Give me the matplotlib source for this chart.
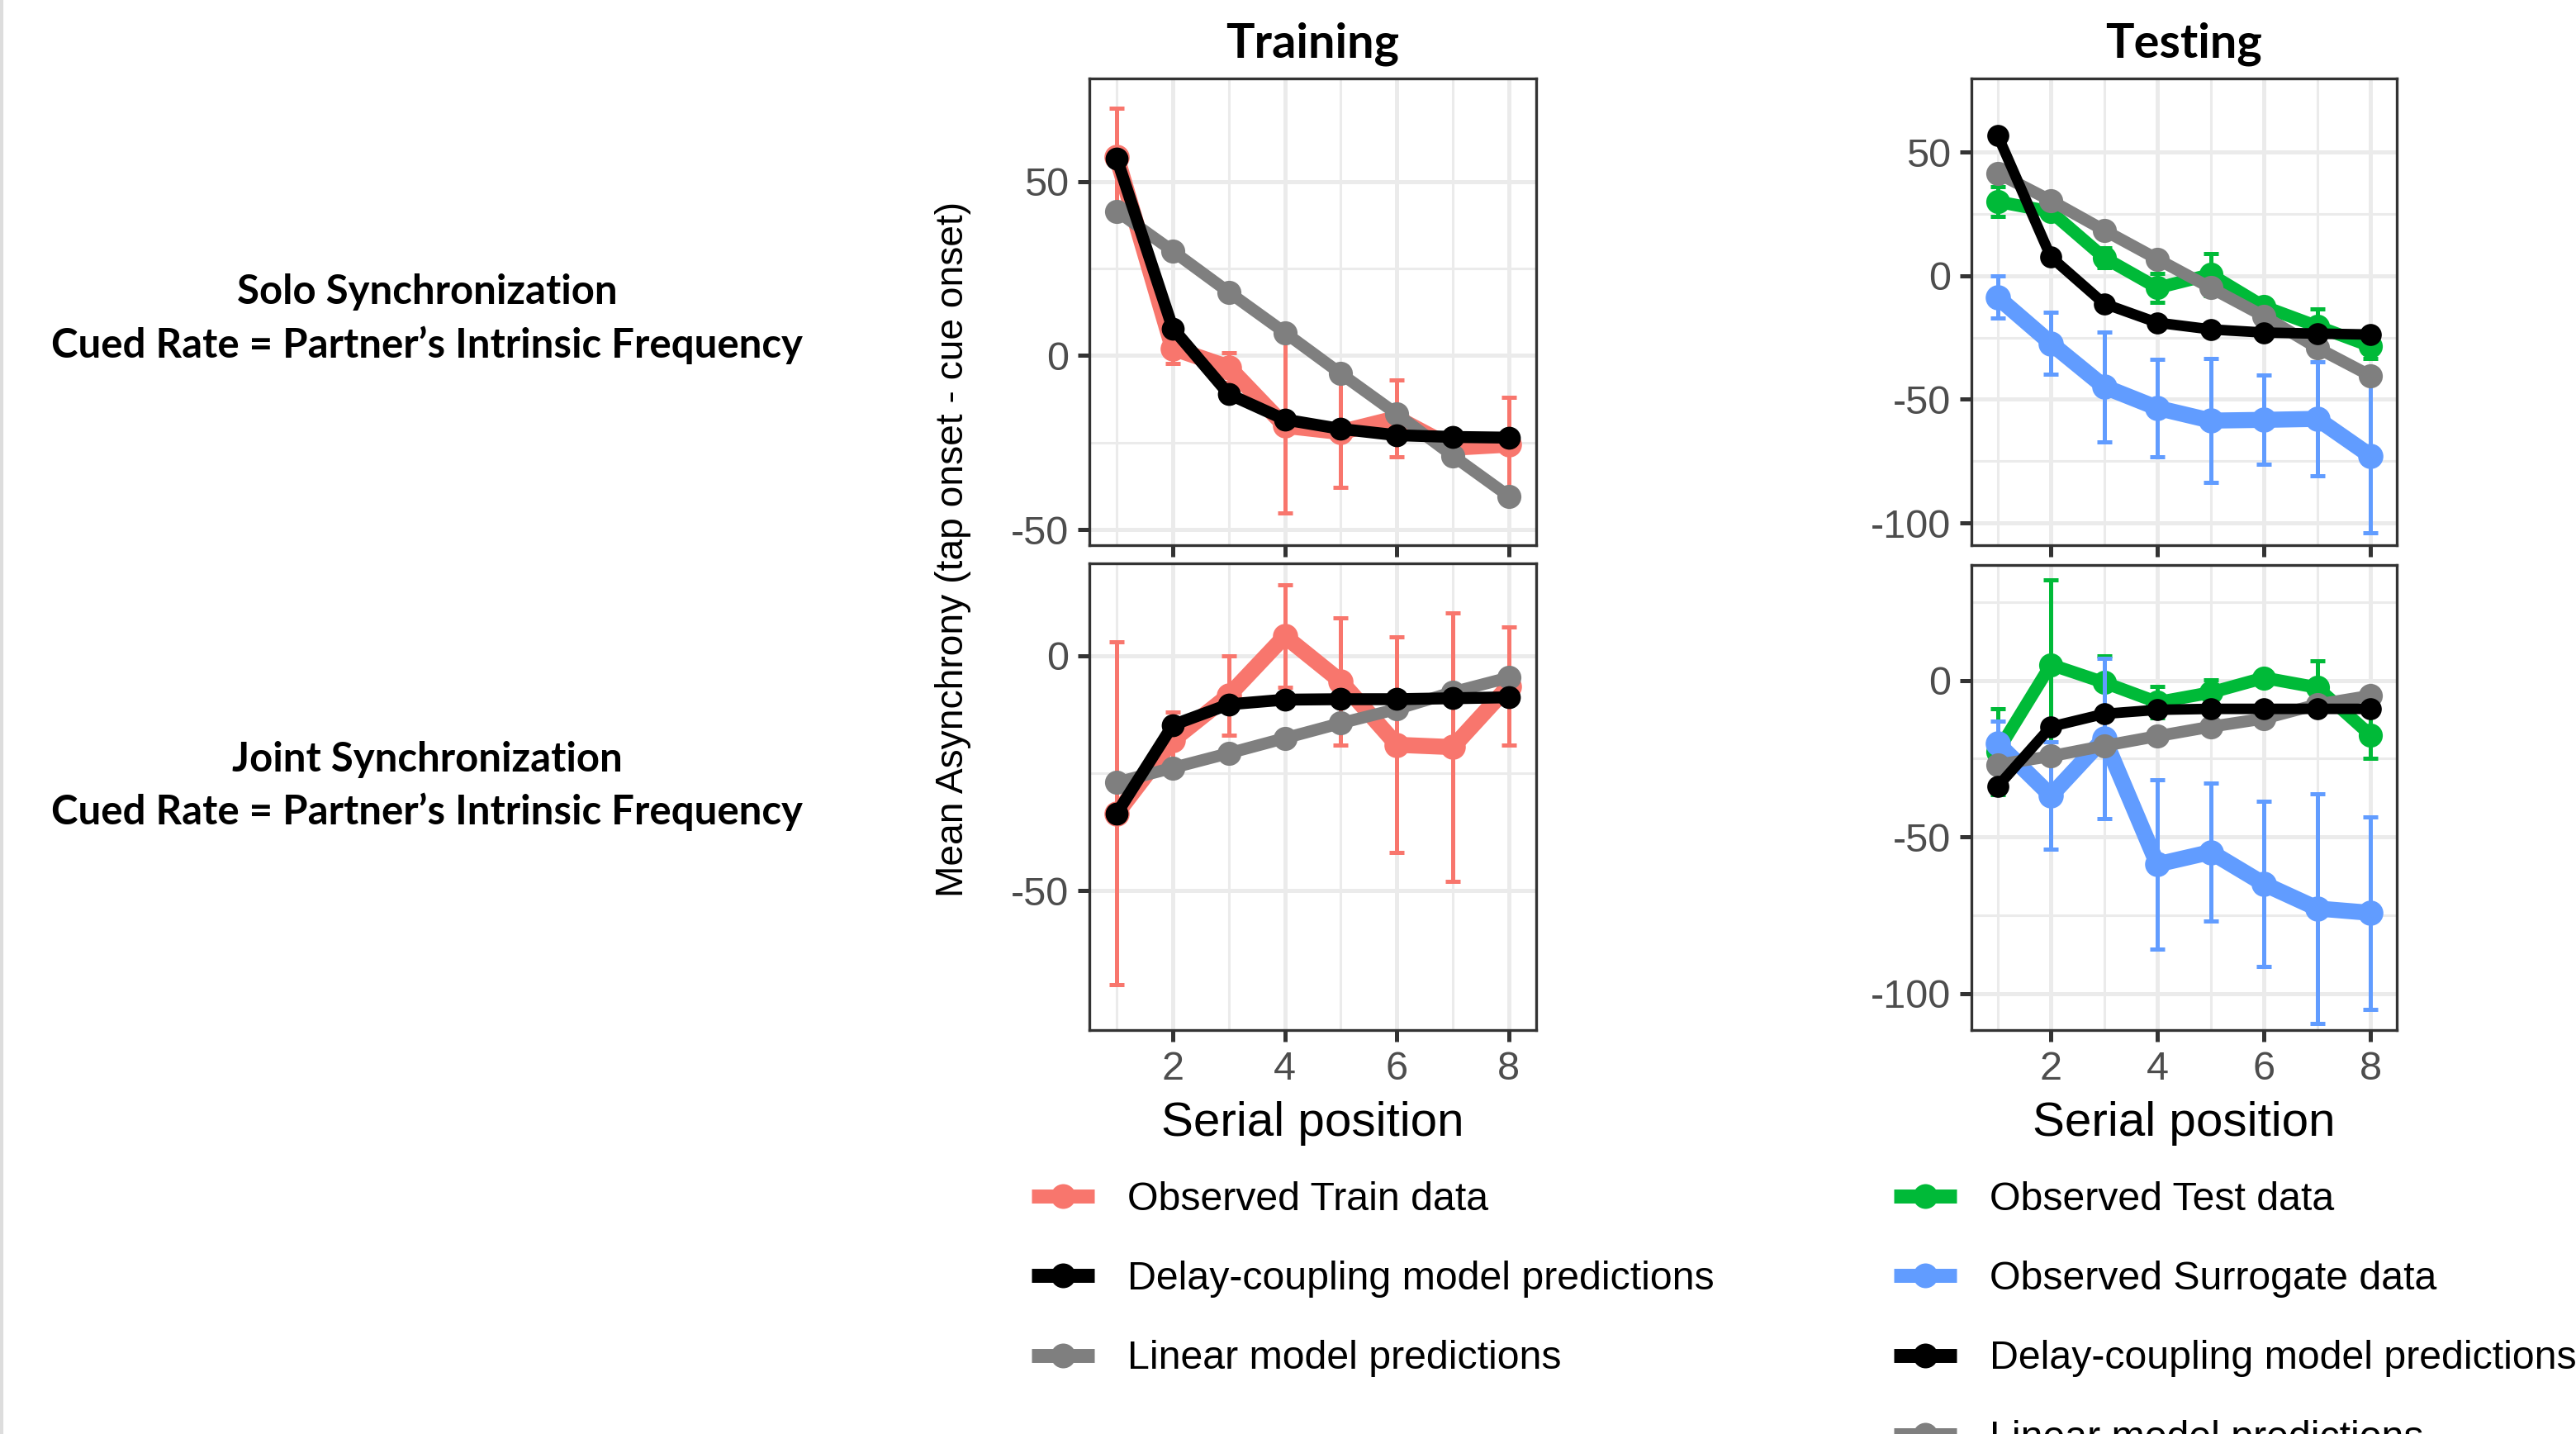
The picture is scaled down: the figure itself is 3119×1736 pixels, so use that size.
import matplotlib
matplotlib.use('Agg')
import matplotlib.pyplot as plt
from matplotlib.lines import Line2D

plt.rcParams['font.family'] = ['Liberation Sans', 'DejaVu Sans']
plt.rcParams['axes.unicode_minus'] = False

# ---------------- data ----------------
positions = [1, 2, 3, 4, 5, 6, 7, 8]

# Solo synchronization - Training
train_solo_obs = [57.0, 2.1, -3.4, -20.2, -22.0, -18.0, -26.5, -25.6]
train_solo_err = [14.0, 4.3, 4.3, 25.0, 16.0, 11.0, 3.0, 13.6]
train_solo_delay = [56.6, 7.8, -11.1, -18.4, -21.1, -22.9, -23.4, -23.6]
train_solo_linear = [41.5, 30.0, 18.2, 6.6, -5.2, -16.8, -28.8, -40.4]

# Joint synchronization - Training
train_joint_obs = [-33.6, -18.0, -8.5, 4.1, -5.5, -19.0, -19.5, -6.5]
train_joint_err = [36.5, 6.0, 8.4, 10.9, 13.5, 23.0, 28.5, 12.5]
train_joint_delay = [-33.6, -14.8, -10.4, -9.4, -9.3, -9.3, -9.1, -8.9]
train_joint_linear = [-27.0, -23.9, -20.8, -17.6, -14.4, -11.4, -7.8, -4.7]

# Solo synchronization - Testing
test_solo_obs = [30.0, 25.9, 7.3, -4.9, 0.5, -12.5, -20.5, -28.5]
test_solo_err = [6.0, 2.0, 4.0, 5.8, 8.5, 2.0, 7.0, 5.0]
surr_solo_obs = [-8.7, -27.3, -44.9, -53.5, -58.6, -58.3, -57.9, -72.9]
surr_solo_err = [8.5, 12.5, 22.2, 19.7, 25.0, 18.0, 23.0, 31.0]
test_solo_delay = [56.9, 7.6, -11.3, -19.0, -21.7, -23.0, -23.4, -23.8]
test_solo_linear = [41.5, 30.4, 18.4, 6.7, -4.9, -16.4, -29.2, -40.5]

# Joint synchronization - Testing
test_joint_obs = [-22.7, 5.0, -0.7, -7.0, -3.9, 0.8, -2.3, -17.5]
test_joint_err = [13.7, 27.0, 8.5, 5.0, 4.0, 2.0, 8.6, 7.4]
surr_joint_obs = [-20.1, -36.8, -18.5, -58.7, -54.8, -65.0, -72.8, -74.2]
surr_joint_err = [7.0, 17.2, 25.5, 27.0, 22.0, 26.3, 36.6, 30.7]
test_joint_delay = [-33.9, -14.8, -10.7, -9.4, -9.1, -9.1, -9.1, -9.1]
test_joint_linear = [-26.9, -24.2, -20.9, -17.8, -14.8, -12.2, -7.7, -4.9]

x_ticks = [2, 4, 6, 8]
legend_train = ['Observed Train data', 'Delay-coupling model predictions', 'Linear model predictions']
legend_test = ['Observed Test data', 'Observed Surrogate data',
               'Delay-coupling model predictions', 'Linear model predictions']
row_titles = [('Solo Synchronization', 'Cued Rate = Partner\u2019s Intrinsic Frequency'),
              ('Joint Synchronization', 'Cued Rate = Partner\u2019s Intrinsic Frequency')]

RED, GREEN, BLUE, GREY, BLACK = '#F8766D', '#00BA38', '#619CFF', '#7F7F7F', '#000000'

# ---------------- figure ----------------
W, H, DPI = 3119, 1736, 200
fig = plt.figure(figsize=(W / DPI, H / DPI), dpi=DPI)


def rect(l, t, r, b):
    return [l / W, 1 - b / H, (r - l) / W, (b - t) / H]


tr_top = fig.add_axes(rect(1319, 95, 1860, 660))
tr_bot = fig.add_axes(rect(1319, 682, 1860, 1247))
te_top = fig.add_axes(rect(2387, 95, 2902, 660))
te_bot = fig.add_axes(rect(2387, 684, 2902, 1247))


def style(ax, ylim, yticks, yminor, xlabels):
    ax.set_xlim(0.51, 8.49)
    ax.set_ylim(*ylim)
    ax.set_xticks(x_ticks)
    ax.set_xticks([1, 3, 5, 7], minor=True)
    ax.set_yticks(yticks)
    ax.set_yticks(yminor, minor=True)
    ax.grid(which='major', color='#EBEBEB', lw=1.8)
    ax.grid(which='minor', color='#EBEBEB', lw=1.1)
    ax.set_axisbelow(True)
    ax.tick_params(which='major', length=5, width=1.8, color='#333333',
                   labelsize=17.5, labelcolor='#4D4D4D', pad=4)
    ax.tick_params(which='minor', length=0)
    ax.tick_params(axis='x', labelbottom=xlabels)
    for s in ax.spines.values():
        s.set_color('#333333')
        s.set_linewidth(1.2)


def series(ax, y, color, lw, ms, err=None, z=2):
    if err is not None:
        ax.errorbar(positions, y, yerr=err, fmt='none', ecolor=color,
                    elinewidth=1.8, capsize=3.4, capthick=1.8, zorder=z)
    ax.plot(positions, y, color=color, lw=lw, marker='o', ms=ms, mew=0,
            zorder=z, solid_joinstyle='round', solid_capstyle='butt')


style(tr_top, (-54.5, 79.6), [-50, 0, 50], [-25, 25], False)
style(tr_bot, (-79.7, 19.6), [-50, 0], [-25], True)
style(te_top, (-109.0, 79.8), [-100, -50, 0, 50], [-75, -25, 25], False)
style(te_bot, (-111.6, 36.8), [-100, -50, 0], [-75, -25, 25], True)

# training
series(tr_top, train_solo_obs, RED, 7.0, 11.0, train_solo_err, 2)
series(tr_top, train_solo_linear, GREY, 5.2, 10.5, None, 3)
series(tr_top, train_solo_delay, BLACK, 5.2, 10.0, None, 4)

series(tr_bot, train_joint_obs, RED, 7.0, 11.0, train_joint_err, 2)
series(tr_bot, train_joint_linear, GREY, 5.2, 10.5, None, 3)
series(tr_bot, train_joint_delay, BLACK, 5.2, 10.0, None, 4)

# testing
series(te_top, test_solo_obs, GREEN, 5.5, 10.5, test_solo_err, 2)
series(te_top, surr_solo_obs, BLUE, 7.0, 11.0, surr_solo_err, 2.5)
series(te_top, test_solo_linear, GREY, 5.2, 10.5, None, 3)
series(te_top, test_solo_delay, BLACK, 4.6, 9.6, None, 4)

series(te_bot, test_joint_obs, GREEN, 5.5, 10.5, test_joint_err, 2)
series(te_bot, surr_joint_obs, BLUE, 7.0, 11.0, surr_joint_err, 2.5)
series(te_bot, test_joint_linear, GREY, 5.2, 10.5, None, 3)
series(te_bot, test_joint_delay, BLACK, 4.6, 9.6, None, 4)

# axis labels
for ax in (tr_bot, te_bot):
    ax.set_xlabel('Serial position', fontsize=21, color='black', va='center')
    ax.xaxis.set_label_coords(0.5, -(1360 - 1247) / 565)

fig.text(1154 / W, 1 - 665 / H, 'Mean Asynchrony (tap onset - cue onset)',
         rotation=90, ha='center', va='center', fontsize=16.6, color='black')

# column titles
bold = dict(family=['Lato', 'DejaVu Sans'], fontweight='bold', color='black')
t_train = tr_top.text(0.5, 1 + (95 - 48) / 565, 'Training', transform=tr_top.transAxes,
                      ha='center', va='center_baseline', fontsize=20, **bold)
t_test = te_top.text(0.5, 1 + (95 - 48) / 565, 'Testing', transform=te_top.transAxes,
                     ha='center', va='center_baseline', fontsize=20, **bold)

# row annotations
row_texts = []
for (l1, l2), (y1, y2) in zip(row_titles, [(350, 414), (915, 979)]):
    a = fig.text(517 / W, 1 - y1 / H, l1, ha='center', va='center_baseline', fontsize=18, **bold)
    b = fig.text(517 / W, 1 - y2 / H, l2, ha='center', va='center_baseline', fontsize=18, **bold)
    row_texts += [a, b]

# legends
def handle(c):
    return Line2D([], [], color=c, lw=6.1, marker='o', ms=10.8, mew=0, solid_capstyle='butt')

leg_kw = dict(loc='upper left', frameon=False, fontsize=17.4, borderpad=0, borderaxespad=0,
              handlelength=1.57, handletextpad=0.83, labelspacing=1.06, numpoints=1)
fig.legend([handle(RED), handle(BLACK), handle(GREY)], legend_train,
           bbox_to_anchor=(1249 / W, 1 - 1430 / H), **leg_kw)
fig.legend([handle(GREEN), handle(BLUE), handle(BLACK), handle(GREY)], legend_test,
           bbox_to_anchor=(2293 / W, 1 - 1430 / H), **leg_kw)

# left border line
fig.add_artist(Line2D([0.0006, 0.0006], [0, 1], transform=fig.transFigure, color='#DDDDDD', lw=1.5))

# fit Calibri-substitute text widths
renderer = fig.canvas.get_renderer()


def fit(t, target):
    bb = t.get_window_extent(renderer)
    t.set_fontsize(t.get_fontsize() * target / bb.width)


fit(t_train, 210)
t_test.set_fontsize(t_train.get_fontsize())
fit(row_texts[1], 907)
for t in row_texts:
    t.set_fontsize(row_texts[1].get_fontsize())

fig.savefig('out.png', dpi=DPI)
